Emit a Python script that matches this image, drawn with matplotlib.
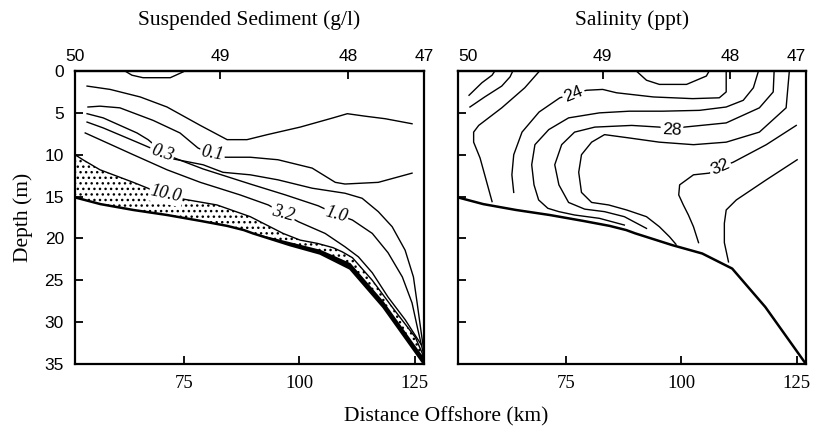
import numpy as np
import matplotlib.pyplot as plt

plt.rcParams['hatch.color'] = 'black'
plt.rcParams['hatch.linewidth'] = 1.0

# axis values (distance offshore in km, depth in m)
stations = ['50', '49', '48', '47']
station_km = [51.5, 82.9, 110.6, 127.0]
depth_ticks = [0, 5, 10, 15, 20, 25, 30, 35]
dist_ticks = [75, 100, 125]

# sea floor and top of the near-bed (black) layer
floor_km = [51.5, 57.0, 64.1, 71.4, 78.6, 84.4, 88.0, 90.0, 98.0, 104.5, 111.0, 118.2, 127.0]
floor_m = [15.1, 15.9, 16.6, 17.2, 17.9, 18.5, 19.0, 19.4, 20.8, 21.8, 23.6, 28.2, 35.0]
mud_top_m = [15.1, 15.9, 16.6, 17.2, 17.9, 18.5, 19.0, 19.3, 20.4, 21.3, 22.9, 27.5, 34.3]

# suspended sediment contours (km, m)
sed_bump = [(62.3, 0.0), (63.8, 0.5), (66.2, 0.8), (72.1, 0.8), (74.9, 0.1)]
sed_top = [(54.1, 1.8), (59.1, 2.2), (65.6, 3.1), (71.4, 4.3), (78.6, 6.5), (84.4, 8.2),
           (88.7, 8.2), (93.1, 7.6), (100.2, 6.7), (107.3, 5.6), (110.4, 5.1), (114.3, 5.4),
           (118.6, 5.7), (124.4, 6.3)]
sed_01 = [(54.3, 4.3), (56.9, 4.2), (61.2, 4.4), (68.4, 5.9), (74.2, 7.4), (78.1, 9.2),
          (81.0, 9.9), (84.0, 10.3), (89.4, 10.3), (95.4, 10.6), (102.8, 11.6), (107.8, 13.3),
          (109.9, 13.5), (117.1, 13.3), (124.4, 12.2)]
sed_03 = [(54.1, 5.1), (57.6, 5.6), (64.9, 7.4), (67.3, 8.2), (70.3, 9.6), (72.7, 10.5),
          (79.2, 11.2), (83.5, 12.1), (89.4, 12.4), (95.4, 13.0), (102.8, 14.0), (109.9, 14.6),
          (113.6, 15.2), (117.1, 16.8), (120.1, 18.6), (122.9, 21.4), (124.7, 24.6),
          (125.5, 27.7), (126.4, 31.3), (127.0, 33.6)]
sed_10 = [(54.1, 6.1), (57.6, 6.8), (64.9, 8.5), (72.1, 10.2), (79.2, 11.7), (89.4, 13.5),
          (97.0, 14.8), (104.1, 16.1), (107.6, 17.0), (111.5, 17.8), (115.8, 19.4),
          (119.2, 21.7), (122.3, 24.6), (124.4, 27.7), (125.7, 31.0), (126.8, 33.6)]
sed_32 = [(53.7, 7.4), (56.9, 8.2), (64.1, 10.0), (71.4, 11.8), (78.6, 13.3), (87.2, 14.8),
          (93.3, 16.0), (96.5, 17.0), (99.8, 18.0), (105.6, 19.4), (109.9, 21.0), (112.8, 22.2),
          (115.8, 24.1), (119.2, 27.0), (122.9, 29.7), (126.4, 32.7)]
sed_100 = [(51.5, 10.0), (53.2, 10.6), (56.9, 11.8), (64.1, 13.3), (67.7, 14.1), (71.4, 14.8),
           (74.9, 15.3), (82.2, 16.0), (89.4, 17.4), (96.5, 19.4), (100.2, 20.2), (104.0, 20.6),
           (107.3, 21.1), (109.3, 21.6), (111.5, 22.3), (115.8, 25.0), (120.1, 28.2),
           (125.1, 31.8), (127.0, 34.2)]
sed_labels = ['0.3', '0.1', '10.0', '3.2', '1.0']
sed_label_km = [70.3, 81.2, 71.2, 96.5, 108.0]
sed_label_m = [9.8, 9.9, 14.7, 17.0, 17.1]

# salinity contours (km, m)
sal_a = [(53.9, 2.9), (56.7, 1.4), (58.9, 0.5), (59.5, 0.0)]
sal_b = [(54.1, 4.3), (57.3, 3.1), (61.0, 1.8), (62.8, 0.7), (63.4, 0.0)]
sal_c = [(69.2, 0.0), (66.0, 2.0), (61.0, 4.4), (56.0, 6.5), (54.9, 7.3), (54.9, 8.5),
         (56.3, 10.4), (57.3, 12.4), (58.9, 15.6)]
sal_24 = [(63.6, 14.5), (63.2, 12.4), (63.6, 10.0), (65.4, 7.3), (69.1, 4.9), (73.6, 3.2),
          (76.6, 2.7), (79.4, 2.3), (82.9, 2.2), (85.9, 2.6), (93.9, 3.1), (102.4, 3.3),
          (108.2, 3.2), (109.7, 2.5), (109.7, 0.5), (109.7, 0.0)]
sal_arc = [(90.2, 0.0), (92.4, 1.1), (95.2, 1.6), (101.1, 1.6), (105.4, 0.6), (106.0, 0.0)]
sal_26 = [(87.6, 18.4), (82.2, 17.6), (76.8, 17.2), (73.4, 16.8), (71.0, 16.4), (69.0, 15.4),
          (68.0, 13.6), (67.5, 11.2), (68.2, 8.8), (71.2, 7.0), (75.5, 5.6), (82.2, 5.0),
          (88.7, 4.8), (95.9, 4.8), (103.9, 4.7), (109.7, 4.3), (113.4, 3.5), (115.6, 2.0),
          (116.7, 0.0)]
sal_28 = [(92.4, 18.8), (87.6, 17.4), (83.3, 16.8), (79.0, 16.5), (75.5, 15.7), (73.4, 13.6),
          (72.5, 11.2), (74.0, 8.8), (76.8, 7.3), (81.2, 6.7), (89.2, 6.5), (95.2, 6.7),
          (97.9, 7.0), (100.6, 6.7), (109.7, 6.2), (116.9, 4.4), (119.9, 2.5), (120.1, 0.0)]
sal_30 = [(98.8, 20.7), (97.4, 19.8), (95.2, 18.6), (92.4, 17.4), (88.1, 16.6), (84.2, 16.0),
          (80.5, 15.7), (78.3, 14.5), (77.7, 12.1), (78.3, 10.0), (80.5, 8.5), (83.3, 7.6),
          (88.7, 8.0), (95.2, 8.5), (102.6, 8.8), (109.7, 8.5), (116.9, 7.3), (122.7, 4.4),
          (123.4, 0.0)]
sal_32 = [(103.7, 20.5), (102.6, 18.6), (101.5, 17.2), (100.4, 16.0), (99.4, 14.8), (99.6, 13.6),
          (102.6, 12.4), (106.0, 12.2), (108.4, 11.5), (111.2, 10.9), (118.4, 8.8), (124.9, 6.5)]
sal_34 = [(110.2, 22.8), (109.3, 20.5), (109.3, 18.2), (109.7, 16.6), (111.9, 15.4),
          (118.4, 13.0), (125.1, 10.6)]
sal_labels = ['24', '28', '32']
sal_label_km = [76.6, 97.9, 108.4]
sal_label_m = [2.8, 7.1, 11.5]

serif = 'Liberation Serif'
sans = 'Liberation Sans'

fig = plt.figure(figsize=(8.13, 4.28), dpi=100)
ax1 = fig.add_axes([0.0923, 0.1495, 0.4293, 0.6846])
ax2 = fig.add_axes([0.5633, 0.1495, 0.4280, 0.6846])

tops = []
for ax in (ax1, ax2):
    ax.set_xlim(51.5, 127.0)
    ax.set_ylim(35, 0)
    ax.set_xticks(dist_ticks, labels=[str(d) for d in dist_ticks], fontfamily=serif, fontsize=13.5)
    ax.set_yticks(depth_ticks, labels=[str(d) for d in depth_ticks], fontfamily=sans, fontsize=12.5)
    ax.tick_params(direction='in', length=6, width=1.3)
    ax.tick_params(axis='x', pad=8)
    ax.tick_params(axis='y', pad=8)
    for s in ax.spines.values():
        s.set_linewidth(1.6)
    top = ax.secondary_xaxis('top')
    top.set_xticks(station_km, labels=stations, fontfamily=sans, fontsize=12.5)
    top.tick_params(direction='in', length=6, width=1.3, pad=5)
    top.spines['top'].set_linewidth(1.6)
    tops.append(top)
    ax.plot(floor_km, floor_m, color='black', lw=1.8, zorder=4)

ax2.tick_params(labelleft=False)
# station labels on the salinity panel sit inside the frame ends
tlabs = tops[1].get_xticklabels()
tlabs[0].set_ha('left')
tlabs[-1].set_ha('right')


def draw(ax, pts):
    xs, ys = zip(*pts)
    ax.plot(xs, ys, color='black', lw=1.0, zorder=3)


# stipple between the 10.0 contour and the bed, black near-bed layer
x10, y10 = zip(*sed_100)
ax1.fill(list(x10) + floor_km[::-1], list(y10) + floor_m[::-1],
         facecolor='white', edgecolor='black', hatch='...', linewidth=0, zorder=1)
ax1.fill_between(floor_km, mud_top_m, floor_m, color='black', lw=0, zorder=2)

for pts in (sed_bump, sed_top, sed_01, sed_03, sed_10, sed_32, sed_100):
    draw(ax1, pts)

for txt, x, y, rot in zip(sed_labels, sed_label_km, sed_label_m, [-18, -10, -12, -15, -15]):
    ax1.text(x, y, txt, rotation=rot, ha='center', va='center', fontsize=13,
             fontfamily=serif, style='italic', zorder=5,
             bbox=dict(boxstyle='square,pad=0.08', fc='white', ec='none'))

for pts in (sal_a, sal_b, sal_c, sal_24, sal_arc, sal_26, sal_28, sal_30, sal_32, sal_34):
    draw(ax2, pts)

for txt, x, y, rot in zip(sal_labels, sal_label_km, sal_label_m, [22, -3, 24]):
    ax2.text(x, y, txt, rotation=rot, ha='center', va='center', fontsize=12.5,
             fontfamily=sans, zorder=5,
             bbox=dict(boxstyle='square,pad=0.1', fc='white', ec='none'))

fig.text(0.306, 0.953, 'Suspended Sediment (g/l)', ha='center', va='center',
         fontsize=15.5, fontfamily=serif)
fig.text(0.777, 0.953, 'Salinity (ppt)', ha='center', va='center',
         fontsize=15.5, fontfamily=serif)
fig.text(0.028, 0.493, 'Depth (m)', ha='center', va='center', rotation=90,
         fontsize=15.5, fontfamily=serif)
fig.text(0.549, 0.026, 'Distance Offshore (km)', ha='center', va='center',
         fontsize=15.5, fontfamily=serif)

fig.savefig('out.png', dpi=100)
